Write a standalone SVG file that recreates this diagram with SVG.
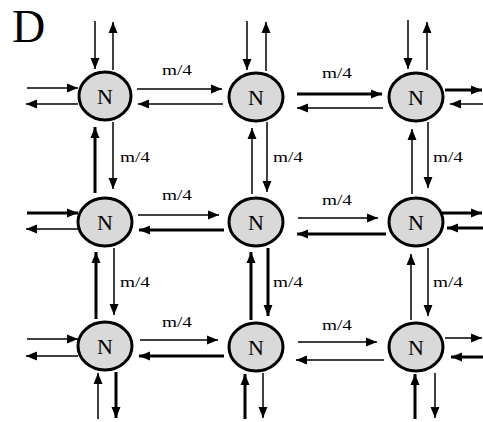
<svg xmlns="http://www.w3.org/2000/svg" width="483" height="422" viewBox="0 0 483 422">
<style>
.bg{fill:#ffffff}
.node ellipse{fill:#d9d9d9;stroke:#000;stroke-width:3}
.node text{font-family:"Liberation Serif","Times New Roman",serif;font-size:22px;text-anchor:middle;fill:#000}
.lbl{font-family:"Liberation Serif","Times New Roman",serif;font-size:15px;fill:#000}
.title{font-family:"Liberation Serif","Times New Roman",serif;font-size:46px;fill:#000}
line{stroke:#000;marker-end:url(#ah)}
.thin{stroke-width:1.5}
.thick{stroke-width:3}
</style>
<defs>
<marker id="ah" markerUnits="userSpaceOnUse" markerWidth="12" markerHeight="10" refX="11" refY="5" orient="auto">
<path d="M0,0.5 L11,5 L0,9.5 z" fill="#000"/>
</marker>
</defs>
<rect class="bg" x="0" y="0" width="483" height="422"/>
<text class="title" x="12" y="42">D</text>

<g id="connectors">
<!-- row 1 top -->
<line class="thin" x1="95" y1="21" x2="95" y2="69"/>
<line class="thin" x1="113" y1="70" x2="113" y2="22"/>
<line class="thin" x1="247" y1="21" x2="247" y2="70"/>
<line class="thin" x1="266" y1="71" x2="266" y2="22"/>
<line class="thin" x1="408" y1="20" x2="408" y2="69"/>
<line class="thin" x1="427" y1="70" x2="427" y2="22"/>
<!-- row 1 horizontals -->
<line class="thin" x1="27" y1="88" x2="78" y2="88"/>
<line class="thin" x1="78" y1="104" x2="26" y2="104"/>
<line class="thin" x1="137" y1="89" x2="222" y2="89"/>
<line class="thin" x1="223" y1="104" x2="138" y2="104"/>
<line class="thick" x1="297" y1="94" x2="382" y2="94"/>
<line class="thin" x1="383" y1="108" x2="297" y2="108"/>
<line class="thick" x1="445" y1="90" x2="482" y2="90"/>
<line class="thin" x1="483" y1="104" x2="450" y2="104"/>
<!-- vertical r1-r2 -->
<line class="thick" x1="95" y1="193" x2="95" y2="127"/>
<line class="thin" x1="113" y1="122" x2="113" y2="189"/>
<line class="thin" x1="252" y1="194" x2="252" y2="128"/>
<line class="thin" x1="267" y1="122" x2="267" y2="192"/>
<line class="thin" x1="412" y1="194" x2="412" y2="129"/>
<line class="thin" x1="428" y1="122" x2="428" y2="188"/>
<!-- row 2 horizontals -->
<line class="thick" x1="27" y1="213" x2="78" y2="213"/>
<line class="thin" x1="78" y1="229" x2="26" y2="229"/>
<line class="thin" x1="138" y1="215" x2="219" y2="215"/>
<line class="thick" x1="224" y1="230" x2="139" y2="230"/>
<line class="thin" x1="298" y1="218" x2="378" y2="218"/>
<line class="thick" x1="386" y1="234" x2="297" y2="234"/>
<line class="thick" x1="442" y1="213" x2="482" y2="213"/>
<line class="thick" x1="483" y1="228" x2="447" y2="228"/>
<!-- vertical r2-r3 -->
<line class="thick" x1="96" y1="319" x2="96" y2="252"/>
<line class="thin" x1="114" y1="248" x2="114" y2="315"/>
<line class="thick" x1="251" y1="320" x2="251" y2="252"/>
<line class="thick" x1="268" y1="248" x2="268" y2="316"/>
<line class="thin" x1="411" y1="320" x2="411" y2="254"/>
<line class="thin" x1="428" y1="248" x2="428" y2="316"/>
<!-- row 3 horizontals -->
<line class="thin" x1="27" y1="339" x2="78" y2="339"/>
<line class="thin" x1="78" y1="356" x2="26" y2="356"/>
<line class="thin" x1="140" y1="340" x2="218" y2="340"/>
<line class="thick" x1="224" y1="356" x2="139" y2="356"/>
<line class="thin" x1="298" y1="342" x2="377" y2="342"/>
<line class="thin" x1="384" y1="360" x2="296" y2="360"/>
<line class="thin" x1="445" y1="338" x2="482" y2="338"/>
<line class="thick" x1="483" y1="357" x2="451" y2="357"/>
<!-- row 3 bottom -->
<line class="thin" x1="98" y1="419" x2="98" y2="373"/>
<line class="thick" x1="116" y1="372" x2="116" y2="418"/>
<line class="thick" x1="245" y1="419" x2="245" y2="374"/>
<line class="thin" x1="263" y1="373" x2="263" y2="418"/>
<line class="thick" x1="415" y1="419" x2="415" y2="374"/>
<line class="thin" x1="435" y1="373" x2="435" y2="418"/>
</g>

<g id="labels">
<text class="lbl" x="162" y="75" textLength="30" lengthAdjust="spacingAndGlyphs">m/4</text>
<text class="lbl" x="322" y="78" textLength="30" lengthAdjust="spacingAndGlyphs">m/4</text>
<text class="lbl" x="120" y="162" textLength="30" lengthAdjust="spacingAndGlyphs">m/4</text>
<text class="lbl" x="273" y="162" textLength="30" lengthAdjust="spacingAndGlyphs">m/4</text>
<text class="lbl" x="433" y="162" textLength="30" lengthAdjust="spacingAndGlyphs">m/4</text>
<text class="lbl" x="162" y="200" textLength="30" lengthAdjust="spacingAndGlyphs">m/4</text>
<text class="lbl" x="322" y="205" textLength="30" lengthAdjust="spacingAndGlyphs">m/4</text>
<text class="lbl" x="120" y="287" textLength="30" lengthAdjust="spacingAndGlyphs">m/4</text>
<text class="lbl" x="273" y="287" textLength="30" lengthAdjust="spacingAndGlyphs">m/4</text>
<text class="lbl" x="433" y="287" textLength="30" lengthAdjust="spacingAndGlyphs">m/4</text>
<text class="lbl" x="162" y="327" textLength="30" lengthAdjust="spacingAndGlyphs">m/4</text>
<text class="lbl" x="322" y="330" textLength="30" lengthAdjust="spacingAndGlyphs">m/4</text>
</g>

<g id="n11" class="node"><ellipse cx="105" cy="96" rx="26" ry="24"/><text x="105" y="104">N</text></g>
<g id="n12" class="node"><ellipse cx="256" cy="97" rx="27" ry="24"/><text x="256" y="105">N</text></g>
<g id="n13" class="node"><ellipse cx="416" cy="97" rx="27" ry="24"/><text x="416" y="105">N</text></g>
<g id="n21" class="node"><ellipse cx="105" cy="222" rx="27" ry="24"/><text x="105" y="230">N</text></g>
<g id="n22" class="node"><ellipse cx="256" cy="222" rx="27" ry="24"/><text x="256" y="230">N</text></g>
<g id="n23" class="node"><ellipse cx="416" cy="222" rx="27" ry="24"/><text x="416" y="230">N</text></g>
<g id="n31" class="node"><ellipse cx="105" cy="346" rx="27" ry="24"/><text x="105" y="354">N</text></g>
<g id="n32" class="node"><ellipse cx="256" cy="347" rx="27" ry="24"/><text x="256" y="355">N</text></g>
<g id="n33" class="node"><ellipse cx="416" cy="347" rx="27" ry="24"/><text x="416" y="355">N</text></g>
</svg>
